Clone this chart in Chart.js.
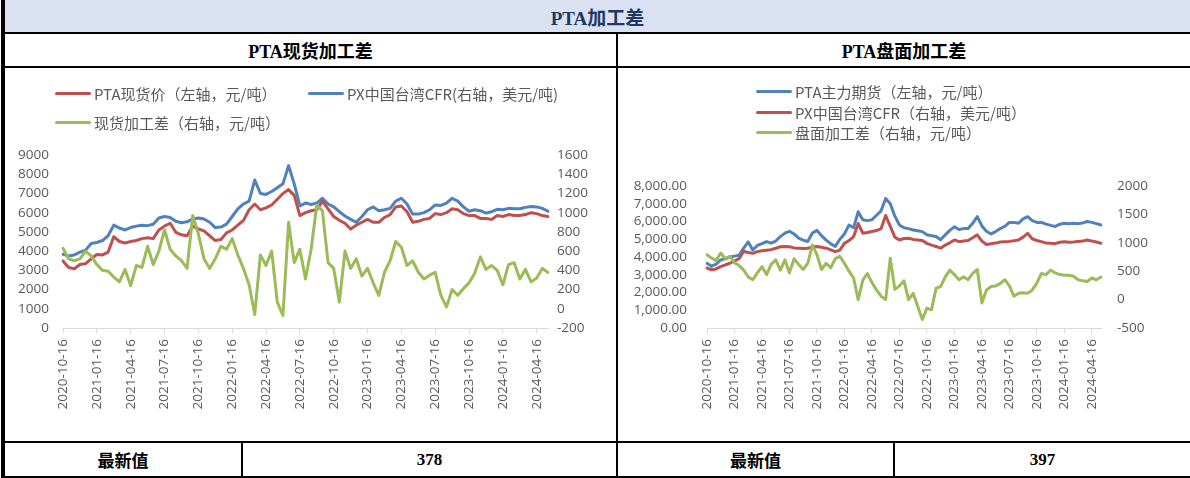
<!DOCTYPE html>
<html>
<head>
<meta charset="utf-8">
<script src="https://cdn.jsdelivr.net/npm/chart.js@4.4.1/dist/chart.umd.min.js"></script>
<style>
body { margin: 0; background: #fff; }
#page { position: relative; width: 1190px; height: 478px; overflow: hidden; background: #fff; }
.ln { position: absolute; background: #000; }
.cell { position: absolute; display: flex; align-items: center; justify-content: center;
        font-family: "Liberation Serif", "Noto Sans CJK SC", serif; font-weight: bold; color: #000; }
.lg { position: absolute; font-family: "Noto Sans CJK SC", sans-serif; font-size: 15px; color: #595959;
      white-space: nowrap; line-height: 20px; height: 20px; }
.lg i { position: absolute; left: 0; top: 8px; width: 36px; height: 3px; border-radius: 2px; }
.lg span { margin-left: 39px; }
canvas { position: absolute; }
</style>
</head>
<body>
<div id="page">
  <div class="ln" style="left:5px;top:0;width:1185px;height:32px;background:#d9e1f2"></div>
  <div class="ln" style="left:1px;top:0;width:4px;height:478px"></div>
  <div class="ln" style="left:5px;top:32px;width:1185px;height:2px"></div>
  <div class="ln" style="left:5px;top:66px;width:1185px;height:2px"></div>
  <div class="ln" style="left:616px;top:34px;width:2px;height:444px"></div>
  <div class="ln" style="left:5px;top:441px;width:1185px;height:2px"></div>
  <div class="ln" style="left:5px;top:476px;width:1185px;height:2px"></div>
  <div class="ln" style="left:241px;top:443px;width:2px;height:33px"></div>
  <div class="ln" style="left:893px;top:443px;width:2px;height:33px"></div>

  <div class="cell" style="left:5px;top:0;width:1185px;height:32px;font-size:19px;color:#1f3864">PTA加工差</div>
  <div class="cell" style="left:5px;top:34px;width:611px;height:32px;font-size:18px">PTA现货加工差</div>
  <div class="cell" style="left:618px;top:34px;width:572px;height:32px;font-size:18px">PTA盘面加工差</div>
  <div class="cell" style="left:5px;top:443px;width:236px;height:33px;font-size:17px">最新值</div>
  <div class="cell" id="lastLeft" style="left:243px;top:443px;width:373px;height:33px;font-size:17px"></div>
  <div class="cell" style="left:618px;top:443px;width:275px;height:33px;font-size:17px">最新值</div>
  <div class="cell" id="lastRight" style="left:895px;top:443px;width:295px;height:33px;font-size:17px"></div>

  <canvas id="spot" width="611" height="373" style="left:5px;top:68px"></canvas>
  <canvas id="futures" width="572" height="373" style="left:618px;top:68px"></canvas>
</div>

<script>
// quarterly tick labels shown under the x axis
var tickDates = ['2020-10-16', '2021-01-16', '2021-04-16', '2021-07-16', '2021-10-16',
    '2022-01-16', '2022-04-16', '2022-07-16', '2022-10-16', '2023-01-16',
    '2023-04-16', '2023-07-16', '2023-10-16', '2024-01-16', '2024-04-16'];

// half-month categories, 2020-10-16 .. 2024-05-16
var dates = [];
for (var i = 0; i < 87; i++) {
    var m = 10 + Math.ceil(i / 2);
    var y = 2020 + Math.floor((m - 1) / 12);
    var mm = (m - 1) % 12 + 1;
    dates.push(y + '-' + (mm < 10 ? '0' : '') + mm + '-' + (i % 2 === 0 ? '16' : '01'));
}

// PTA现货加工差 chart
var spotNames = ['PTA现货价（左轴，元/吨）', 'PX中国台湾CFR(右轴，美元/吨)', '现货加工差（右轴，元/吨）'];
var spotPrice = [3490, 3150, 3080, 3300, 3350, 3600, 3820, 3800, 3950, 4750,
    4500, 4420, 4500, 4550, 4650, 4700, 4650, 5100, 5300, 5450,
    4980, 4850, 4800, 5300, 5150, 5050, 4800, 4550, 4600, 4950,
    5100, 5350, 5600, 6150, 6450, 6150, 6250, 6400, 6700, 7000,
    7200, 6900, 5850, 6000, 6100, 6150, 6600, 6200, 5800, 5600,
    5450, 5150, 5350, 5500, 5650, 5500, 5500, 5750, 5900, 6300,
    6350, 6050, 5500, 5550, 5650, 5700, 5950, 5900, 6000, 6200,
    6150, 5950, 5850, 5850, 5700, 5700, 5650, 5850, 5800, 5900,
    5850, 5850, 5900, 6000, 5950, 5850, 5800];
var pxSpot = [567, 550, 560, 590, 610, 680, 690, 710, 760, 870,
    840, 820, 845, 860, 870, 865, 880, 945, 960, 950,
    910, 895, 905, 935, 945, 935, 900, 845, 850, 880,
    960, 1040, 1090, 1120, 1340, 1200, 1190, 1220, 1260, 1300,
    1490, 1300, 1070, 1100, 1085, 1100, 1150, 1090, 1060, 1010,
    965, 930, 900, 960, 1030, 1060, 1020, 1030, 1045, 1120,
    1150, 1090, 985, 985, 1000, 1030, 1080, 1075, 1100, 1150,
    1120, 1060, 1015, 1030, 1020, 995, 1010, 1035, 1030, 1045,
    1040, 1040, 1055, 1065, 1060, 1045, 1015];
var spotSpread = [630, 520, 500, 520, 600, 550, 460, 400, 390, 330,
    280, 410, 240, 450, 430, 650, 460, 600, 820, 620,
    550, 500, 420, 970, 780, 520, 420, 520, 650, 620,
    730, 560, 420, 250, -60, 560, 450, 600, 70, -70,
    900, 480, 620, 310, 620, 1080, 1020, 480, 420, 70,
    600, 420, 520, 340, 420, 270, 140, 380, 500, 700,
    640, 450, 500, 380, 310, 350, 380, 140, 20, 200,
    140, 210, 270, 370, 540, 410, 450, 400, 250, 460,
    480, 310, 410, 280, 320, 420, 378];

// PTA盘面加工差 chart
var futNames = ['PTA主力期货（左轴，元/吨）', 'PX中国台湾CFR（右轴，美元/吨）', '盘面加工差（右轴，元/吨）'];
var futPrice = [3650, 3480, 3600, 3840, 3900, 4000, 4050, 4100, 4500, 4850,
    4400, 4650, 4750, 4870, 4780, 4900, 5150, 5340, 5450, 5300,
    5060, 4950, 4870, 5350, 5500, 5200, 4950, 4750, 4600, 5000,
    5300, 5800, 5650, 6550, 6100, 6050, 6100, 6350, 6600, 7300,
    7000, 6300, 5800, 5650, 5600, 5520, 5480, 5430, 5250, 5200,
    5150, 4970, 5250, 5500, 5700, 5550, 5600, 5600, 5900, 6270,
    5750, 5450, 5300, 5430, 5600, 5720, 5950, 5950, 5900, 6150,
    6270, 6050, 5950, 5950, 5850, 5780, 5720, 5850, 5900, 5880,
    5900, 5880, 5920, 6000, 5950, 5880, 5800];
var pxFut = [554, 525, 540, 580, 610, 640, 680, 720, 850, 830,
    815, 845, 860, 870, 880, 905, 930, 935, 930, 910,
    905, 900, 905, 925, 935, 920, 905, 875, 845, 870,
    990, 1040, 1110, 1340, 1170, 1180, 1200, 1215, 1250, 1480,
    1290, 1100, 1050, 1075, 1080, 1060, 1050, 1040, 990, 960,
    935, 905, 960, 1000, 1050, 1020, 1030, 1040, 1090, 1140,
    1030, 970, 985, 995, 1015, 1020, 1025, 1035, 1050, 1100,
    1165, 1070, 1040, 1020, 995, 990, 985, 1010, 1020, 1010,
    1015, 1025, 1030, 1050, 1030, 1015, 993];
var futSpread = [790, 730, 690, 820, 720, 760, 650, 600, 520, 400,
    350, 470, 580, 440, 620, 700, 520, 700, 470, 720,
    620, 530, 640, 960, 790, 530, 640, 560, 720, 760,
    640, 500, 380, 0, 340, 460, 300, 170, 60, 0,
    730, 180, 240, 330, 0, 110, -120, -350, -150, -180,
    200, 230, 400, 520, 440, 350, 400, 350, 460, 530,
    -60, 170, 230, 240, 280, 350, 240, 60, 110, 120,
    110, 170, 290, 460, 440, 520, 470, 440, 430, 430,
    410, 350, 330, 320, 380, 350, 397];

var RED = '#c0504d', BLUE = '#4f81bd', GREEN = '#9bbb59';
var tickFont = { family: '"Open Sans", "Noto Sans", sans-serif', size: 13.5 };

function line(data, color, axis) {
    return {
        data: data, borderColor: color, backgroundColor: color, yAxisID: axis,
        borderWidth: 3, pointRadius: 0, tension: 0, fill: false,
        borderJoinStyle: 'round', borderCapStyle: 'round'
    };
}

function legend(left, top, color, text) {
    var d = document.createElement('div');
    d.className = 'lg';
    d.style.left = left + 'px';
    d.style.top = (top - 10) + 'px';
    d.innerHTML = '<i style="background:' + color + '"></i><span>' + text + '</span>';
    document.getElementById('page').appendChild(d);
}

function makeChart(id, datasets, o) {
    new Chart(document.getElementById(id), {
        type: 'line',
        data: { labels: dates, datasets: datasets },
        options: {
            responsive: false,
            animation: false,
            layout: { padding: { top: o.top } },
            plugins: { legend: { display: false }, tooltip: { enabled: false } },
            scales: {
                x: {
                    afterFit: function(s) { s.height = 113; },
                    grid: { display: true, drawOnChartArea: false, drawTicks: true, tickLength: 5, color: '#d9d9d9' },
                    border: { display: true, color: '#d9d9d9' },
                    ticks: {
                        autoSkip: false, minRotation: 90, maxRotation: 90, padding: 6,
                        color: '#595959', font: tickFont,
                        callback: function(v, i) {
                            return tickDates.indexOf(dates[i]) >= 0 ? dates[i] : null;
                        }
                    }
                },
                y: {
                    position: 'left', min: o.yMin, max: o.yMax,
                    afterFit: function(s) { s.width = o.yWidth; },
                    grid: { display: false, drawTicks: false }, border: { display: false },
                    ticks: { autoSkip: false, stepSize: o.yStep, padding: o.yPad, color: '#595959', font: tickFont, callback: o.yFmt }
                },
                y1: {
                    position: 'right', min: o.y1Min, max: o.y1Max,
                    afterFit: function(s) { s.width = o.y1Width; },
                    grid: { display: false, drawTicks: false }, border: { display: false },
                    ticks: { autoSkip: false, stepSize: o.y1Step, padding: o.y1Pad, color: '#595959', font: tickFont,
                        callback: function(v) { return String(v); } }
                }
            }
        }
    });
}

makeChart('spot', [
    line(spotSpread, GREEN, 'y1'),
    line(spotPrice, RED, 'y'),
    line(pxSpot, BLUE, 'y1')
], {
    top: 87, yMin: 0, yMax: 9000, yStep: 1000, yWidth: 58, yPad: 14,
    yFmt: function(v) { return String(v); },
    y1Min: -200, y1Max: 1600, y1Step: 200, y1Width: 68, y1Pad: 9
});

makeChart('futures', [
    line(futSpread, GREEN, 'y1'),
    line(pxFut, RED, 'y1'),
    line(futPrice, BLUE, 'y')
], {
    top: 118, yMin: 0, yMax: 8000, yStep: 1000, yWidth: 89, yPad: 20,
    yFmt: function(v) { return v.toLocaleString('en-US', { minimumFractionDigits: 2, maximumFractionDigits: 2 }); },
    y1Min: -500, y1Max: 2000, y1Step: 500, y1Width: 89, y1Pad: 16
});

legend(55, 94, RED, spotNames[0]);
legend(308, 94, BLUE, spotNames[1]);
legend(55, 123, GREEN, spotNames[2]);
legend(756, 92, BLUE, futNames[0]);
legend(756, 113, RED, futNames[1]);
legend(756, 133, GREEN, futNames[2]);

document.getElementById('lastLeft').textContent = spotSpread[spotSpread.length - 1];
document.getElementById('lastRight').textContent = futSpread[futSpread.length - 1];
</script>
</body>
</html>
